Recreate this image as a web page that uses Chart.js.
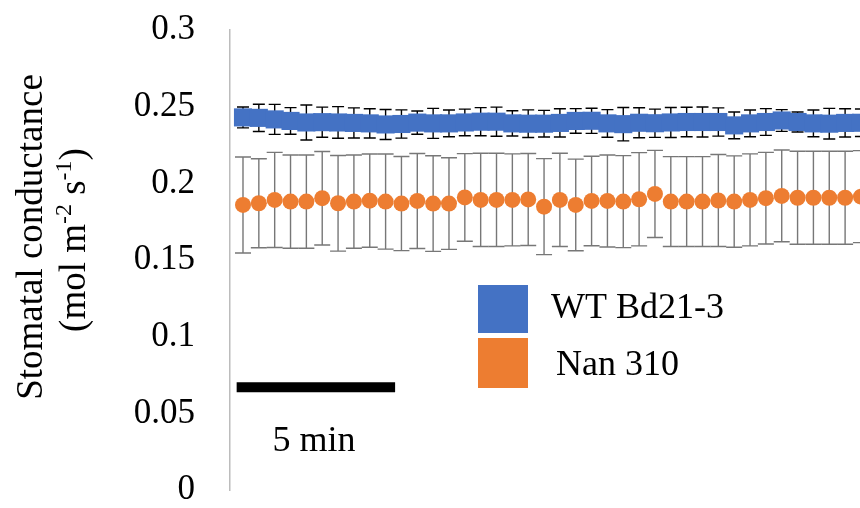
<!DOCTYPE html>
<html><head><meta charset="utf-8">
<script src="https://cdn.jsdelivr.net/npm/chart.js@4/dist/chart.umd.min.js"></script>
<style>html,body{margin:0;padding:0;background:#fff;overflow:hidden;width:860px;height:508px}#wrap{width:860px;height:508px;position:relative;overflow:hidden}canvas{display:block}</style>
</head><body><div id="wrap"><canvas id="c"></canvas></div>
<script>
// ---- data ----
const timesMin = [0.5,1.0,1.5,2.0,2.5,3.0,3.5,4.0,4.5,5.0,5.5,6.0,6.5,7.0,7.5,8.0,8.5,9.0,9.5,10.0,
                  10.5,11.0,11.5,12.0,12.5,13.0,13.5,14.0,14.5,15.0,15.5,16.0,16.5,17.0,17.5,18.0,18.5,19.0,19.5,20.0];
const wtMeans = [0.2430,0.2427,0.2417,0.2407,0.2397,0.2399,0.2397,0.2394,0.2391,0.2384,
                 0.2387,0.2396,0.2391,0.2391,0.2397,0.2402,0.2402,0.2391,0.2389,0.2389,
                 0.2394,0.2407,0.2408,0.2391,0.2386,0.2395,0.2392,0.2397,0.2400,0.2400,
                 0.2400,0.2378,0.2391,0.2400,0.2410,0.2400,0.2391,0.2389,0.2394,0.2395];
const wtErrors = [0.0068,0.0089,0.0098,0.0087,0.0114,0.0098,0.0103,0.0098,0.0095,0.0098,
                  0.0092,0.0076,0.0098,0.0087,0.0087,0.0092,0.0095,0.0082,0.0090,0.0087,
                  0.0092,0.0080,0.0082,0.0090,0.0109,0.0098,0.0092,0.0098,0.0096,0.0098,
                  0.0092,0.0087,0.0087,0.0087,0.0071,0.0065,0.0087,0.0100,0.0092,0.0090];
const nanMeans = [0.1859,0.1870,0.1892,0.1881,0.1881,0.1903,0.1870,0.1881,0.1887,0.1881,
                  0.1868,0.1885,0.1868,0.1868,0.1908,0.1892,0.1892,0.1892,0.1895,0.1848,
                  0.1892,0.1859,0.1885,0.1885,0.1881,0.1896,0.1931,0.1881,0.1881,0.1881,
                  0.1888,0.1881,0.1892,0.1903,0.1918,0.1906,0.1906,0.1906,0.1906,0.1913];
const nanErrors = [0.0313,0.0290,0.0310,0.0304,0.0304,0.0305,0.0312,0.0304,0.0304,0.0310,
                   0.0307,0.0310,0.0312,0.0299,0.0286,0.0304,0.0304,0.0300,0.0300,0.0313,
                   0.0304,0.0299,0.0292,0.0300,0.0300,0.0304,0.0284,0.0293,0.0293,0.0293,
                   0.0300,0.0298,0.0300,0.0299,0.0299,0.0303,0.0303,0.0303,0.0303,0.0300];
const seriesNames = ['WT Bd21-3','Nan 310'];
const yTickValues = [0,0.05,0.1,0.15,0.2,0.25,0.3];
const yTickLabels = ['0','0.05','0.1','0.15','0.2','0.25','0.3'];
const yTitleLine1 = 'Stomatal conductance';
const yTitleLine2 = [['(mol m',false],['-2',true],[' s',false],['-1',true],[')',false]];
const scaleBarStart = [0.3];      // minutes
const scaleBarMinutes = [5];
const scaleBarLevel = [0.067];
const scaleBarLabel = '5 min';

const BLUE = '#4472C4', ORANGE = '#ED7D31';
const SERIF = '"Liberation Serif", "Times New Roman", serif';

const errorBars = {
  id: 'errorBars',
  beforeDatasetsDraw(chart) {
    const {ctx, chartArea: a, scales: {x, y}} = chart;
    ctx.save();
    ctx.beginPath();
    ctx.rect(a.left, 0, a.right - a.left, chart.height);
    ctx.clip();
    chart.data.datasets.forEach(ds => {
      if (!ds.errors) return;
      ctx.strokeStyle = ds.errorColor;
      ctx.lineWidth = 1.4;
      ds.means.forEach((v, i) => {
        const px = x.getPixelForValue(timesMin[i]);
        const t = y.getPixelForValue(v + ds.errors[i]);
        const b = y.getPixelForValue(v - ds.errors[i]);
        const h = ds.capHalf;
        ctx.beginPath();
        ctx.moveTo(px, t); ctx.lineTo(px, b);
        ctx.moveTo(px - h, t); ctx.lineTo(px + h, t);
        ctx.moveTo(px - h, b); ctx.lineTo(px + h, b);
        ctx.stroke();
      });
    });
    ctx.restore();
  }
};

const annotations = {
  id: 'annotations',
  afterDraw(chart) {
    const {ctx, scales: {x, y}} = chart;
    ctx.save();
    ctx.fillStyle = '#000';
    // y-axis title
    ctx.textBaseline = 'alphabetic';
    ctx.font = '37px ' + SERIF;
    ctx.save();
    ctx.translate(42, 237);
    ctx.rotate(-Math.PI / 2);
    ctx.textAlign = 'center';
    ctx.fillText(yTitleLine1, 0, 0);
    ctx.restore();
    const mainF = '37px ' + SERIF, supF = '24px ' + SERIF;
    let total = 0;
    yTitleLine2.forEach(([s, sup]) => { ctx.font = sup ? supF : mainF; total += ctx.measureText(s).width; });
    ctx.save();
    ctx.translate(85, 240);
    ctx.rotate(-Math.PI / 2);
    ctx.textAlign = 'left';
    let cx = -total / 2;
    yTitleLine2.forEach(([s, sup]) => {
      ctx.font = sup ? supF : mainF;
      ctx.fillText(s, cx, sup ? -14 : 0);
      cx += ctx.measureText(s).width;
    });
    ctx.restore();
    // scale bar label
    ctx.font = '36px ' + SERIF;
    ctx.textAlign = 'center';
    ctx.textBaseline = 'middle';
    const midX = (x.getPixelForValue(scaleBarStart[0]) + x.getPixelForValue(scaleBarStart[0] + scaleBarMinutes[0])) / 2;
    ctx.fillText(scaleBarLabel, midX - 2, 442);
    // legend
    const colors = [BLUE, ORANGE];
    const boxes = [[478, 285, 50, 48], [478, 338, 50, 50]];
    const texts = [[551, 309], [556, 366]];
    ctx.textAlign = 'left';
    seriesNames.forEach((n, i) => {
      ctx.fillStyle = colors[i];
      ctx.fillRect(...boxes[i]);
      ctx.fillStyle = '#000';
      ctx.fillText(n, texts[i][0], texts[i][1]);
    });
    ctx.restore();
  }
};

new Chart(document.getElementById('c'), {
  type: 'scatter',
  data: {
    datasets: [
      {
        label: seriesNames[0],
        data: wtMeans.map((v, i) => ({x: timesMin[i], y: v})),
        means: wtMeans, errors: wtErrors, errorColor: '#000000', capHalf: 6,
        pointStyle: 'rect', pointRadius: 12.8, pointHoverRadius: 12.8,
        backgroundColor: BLUE, borderColor: BLUE, pointBorderWidth: 0,
        showLine: false
      },
      {
        label: seriesNames[1],
        data: nanMeans.map((v, i) => ({x: timesMin[i], y: v})),
        means: nanMeans, errors: nanErrors, errorColor: '#777777', capHalf: 8,
        pointStyle: 'circle', pointRadius: 8, pointHoverRadius: 8,
        backgroundColor: ORANGE, borderColor: ORANGE, pointBorderWidth: 0,
        showLine: false
      },
      {
        label: 'scale bar',
        data: [{x: scaleBarStart[0], y: scaleBarLevel[0]}, {x: scaleBarStart[0] + scaleBarMinutes[0], y: scaleBarLevel[0]}],
        showLine: true, borderColor: '#000', borderWidth: 10, borderCapStyle: 'butt',
        pointRadius: 0, pointHoverRadius: 0
      }
    ]
  },
  options: {
    responsive: true, maintainAspectRatio: false, animation: false,
    events: [],
    layout: {autoPadding: false, padding: {left: 0, right: 0, top: 30, bottom: 18}},
    plugins: {legend: {display: false}, tooltip: {enabled: false}},
    scales: {
      x: {type: 'linear', min: 0.09, max: 19.97, display: false},
      y: {
        type: 'linear', min: 0, max: 0.3,
        afterBuildTicks: s => { s.ticks = yTickValues.map(v => ({value: v})); },
        afterFit: s => { s.width = 230; s.paddingTop = 0; s.paddingBottom = 0; },
        grid: {display: false, drawTicks: false},
        border: {display: true, color: '#bcbcbc', width: 1.5},
        ticks: {
          padding: 35, color: '#000',
          font: {family: SERIF, size: 35},
          callback: (v, i) => yTickLabels[i]
        }
      }
    }
  },
  plugins: [errorBars, annotations]
});
</script></body></html>
